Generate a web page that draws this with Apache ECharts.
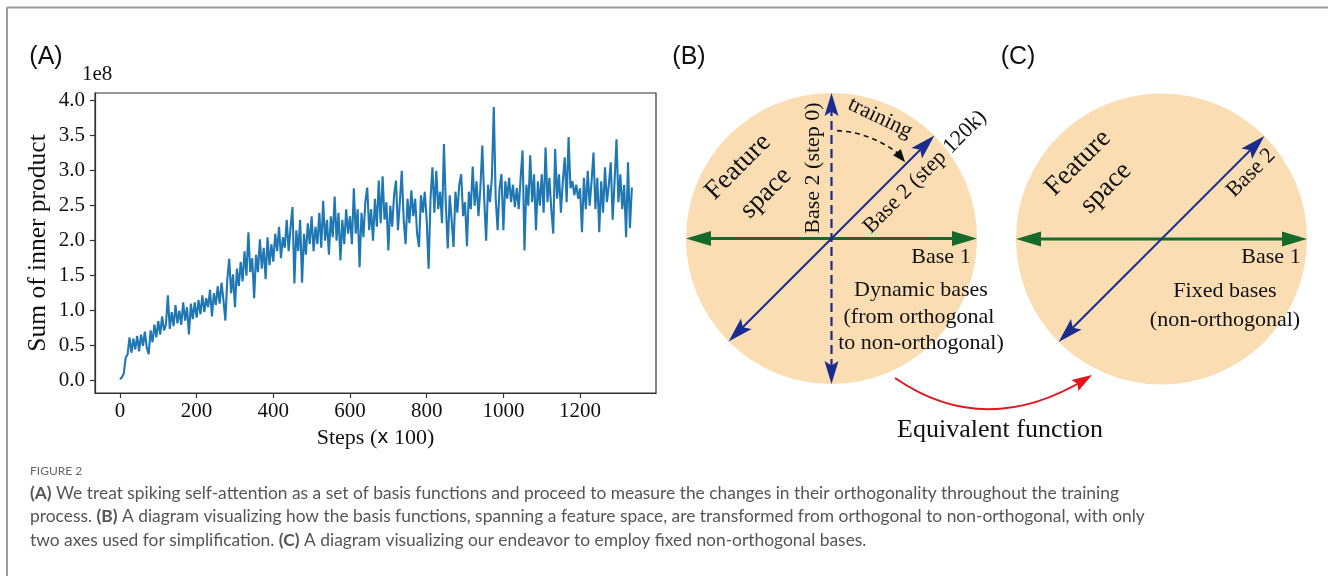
<!DOCTYPE html>
<html>
<head>
<meta charset="utf-8">
<style>
html, body { margin: 0; padding: 0; background: #fff; }
#main { width: 1328px; height: 576px; }
</style>
<script src="https://cdn.jsdelivr.net/npm/echarts@6/dist/echarts.min.js"></script>
</head>
<body>
<div id="main"></div>
<script>
// panel A: sum of inner product (x 1e8), one value every 5 "steps (x 100)"
var stepGap = 5;
var innerSum = [
	0.02, 0.05, 0.10, 0.33, 0.38, 0.62, 0.40, 0.60, 0.45, 0.64, 0.42, 0.66, 0.50, 0.70, 0.47, 0.38, 0.72, 0.55, 0.80, 0.62,
	0.85, 0.66, 0.92, 0.72, 0.80, 1.22, 0.74, 0.98, 0.78, 1.08, 0.82, 1.00, 0.80, 1.12, 0.86, 1.05, 0.66, 1.10, 0.88, 1.12,
	0.90, 1.15, 0.95, 1.22, 0.98, 1.18, 1.05, 1.30, 0.92, 1.25, 1.08, 1.35, 1.10, 1.40, 1.15, 0.86, 1.45, 1.74, 1.25, 1.52,
	1.05, 1.60, 1.35, 1.70, 1.42, 1.85, 1.50, 2.12, 1.55, 1.75, 1.18, 1.80, 1.55, 2.02, 1.60, 1.90, 1.45, 2.05, 1.65, 1.95,
	1.70, 2.10, 1.85, 2.20, 1.75, 2.05, 1.90, 2.30, 1.85, 2.20, 2.48, 1.39, 2.15, 1.85, 2.30, 1.40, 2.10, 1.80, 2.25, 1.95,
	2.35, 1.85, 2.20, 1.95, 2.40, 1.90, 2.57, 2.00, 2.30, 1.80, 2.35, 2.05, 2.63, 2.00, 2.40, 1.72, 2.30, 1.95, 2.45, 2.10,
	2.35, 1.95, 2.75, 2.10, 2.45, 1.62, 2.40, 2.05, 2.55, 2.76, 2.15, 2.45, 2.00, 2.60, 2.20, 2.86, 2.25, 2.92, 2.30, 2.55,
	1.86, 2.50, 2.20, 2.65, 2.86, 2.15, 2.55, 3.00, 2.30, 1.95, 2.60, 2.25, 2.72, 2.35, 2.60, 2.10, 1.91, 2.65, 2.40, 2.70,
	2.30, 1.60, 2.60, 3.05, 2.40, 3.00, 2.45, 2.70, 2.25, 3.38, 2.50, 1.89, 2.65, 2.30, 1.91, 2.70, 2.40, 2.80, 2.95, 2.35,
	2.55, 1.92, 2.70, 2.45, 3.06, 2.50, 2.85, 2.35, 2.75, 3.36, 2.60, 2.00, 2.80, 2.55, 2.90, 3.91, 2.60, 2.15, 2.75, 2.95,
	2.15, 2.85, 2.60, 2.90, 2.55, 2.80, 2.48, 2.75, 2.45, 2.90, 3.29, 1.86, 2.80, 2.50, 3.22, 2.55, 2.95, 2.15, 2.85, 2.50,
	2.95, 2.40, 3.33, 2.55, 2.90, 2.45, 2.10, 3.31, 2.60, 2.95, 2.40, 2.85, 3.19, 2.55, 3.48, 2.75, 2.85, 2.65, 2.80, 2.60,
	2.75, 2.12, 2.90, 2.45, 3.00, 2.50, 2.85, 3.26, 2.45, 2.90, 2.12, 2.85, 2.40, 3.05, 2.55, 2.80, 3.12, 2.30, 2.85, 3.45,
	2.55, 2.95, 2.45, 2.80, 2.05, 3.12, 2.18, 2.76
];
var xTicks = [0, 200, 400, 600, 800, 1000, 1200];
var yTicks = [0, 0.5, 1.0, 1.5, 2.0, 2.5, 3.0, 3.5, 4.0];

var captionLines = [
	'{b|(A)} We treat spiking self-attention as a set of basis functions and proceed to measure the changes in their orthogonality throughout the training',
	'process. {b|(B)} A diagram visualizing how the basis functions, spanning a feature space, are transformed from orthogonal to non-orthogonal, with only',
	'two axes used for simplification. {b|(C)} A diagram visualizing our endeavor to employ fixed non-orthogonal bases.'
];

var serif = '"Liberation Serif", "Times New Roman", serif';
var sans = 'Lato, "Open Sans", sans-serif';
var peach = '#FADDB2', navy = '#1B2C8F', green = '#17692C';

var chart = echarts.init(document.getElementById('main'));

var lineData = innerSum.map(function(v, i) {
	return [i * stepGap, v];
});

// ---- drawing helpers for the diagrams ----
function head(tx, ty, ang, len, half, color, notch) {
	var c = Math.cos(ang), s = Math.sin(ang);
	var bx = tx - c * len, by = ty - s * len;
	var nx = tx - c * len * notch, ny = ty - s * len * notch;
	return {
		type: 'polygon',
		shape: { points: [[tx, ty], [bx - s * half, by + c * half], [nx, ny], [bx + s * half, by - c * half]] },
		style: { fill: color },
		z: 10
	};
}

function dblArrow(x1, y1, x2, y2, opt) {
	var ang = Math.atan2(y2 - y1, x2 - x1);
	var c = Math.cos(ang), s = Math.sin(ang);
	var cut = opt.len * 0.7;
	var out = [];
	out.push({
		type: 'line',
		shape: { x1: x1 + c * cut, y1: y1 + s * cut, x2: x2 - c * cut, y2: y2 - s * cut },
		style: { stroke: opt.color, lineWidth: opt.width, lineDash: opt.dash || null },
		z: 9
	});
	out.push(head(x2, y2, ang, opt.len, opt.half, opt.color, opt.notch));
	out.push(head(x1, y1, ang + Math.PI, opt.len, opt.half, opt.color, opt.notch));
	return out;
}

function txt(x, y, text, size, rot, family, extra) {
	var el = {
		type: 'text',
		x: x,
		y: y,
		rotation: rot || 0,
		style: {
			text: text,
			fontSize: size,
			fontFamily: family || serif,
			fill: '#111',
			align: 'center',
			verticalAlign: 'middle'
		},
		z: 20
	};
	if(extra) {
		for(var k in extra) el.style[k] = extra[k];
	}
	return el;
}

function panel(cx, cy, r, dynamic) {
	var els = [];
	var d = r * Math.SQRT1_2;
	els.push({ type: 'circle', shape: { cx: cx, cy: cy, r: r }, style: { fill: peach }, z: 1 });
	els = els.concat(dblArrow(cx - r, cy, cx + r, cy, { color: green, width: 3, len: 25, half: 7.5, notch: 1 }));
	if(dynamic) {
		els = els.concat(dblArrow(cx, cy + r, cx, cy - r, { color: navy, width: 2.2, dash: [9, 5], len: 23, half: 7, notch: 0.8 }));
	}
	els = els.concat(dblArrow(cx - d, cy + d, cx + d, cy - d, { color: navy, width: 2, len: 25, half: 7.5, notch: 0.8 }));
	return els;
}

var graphics = [];
// frame
graphics.push({ type: 'line', shape: { x1: 7, y1: 7.5, x2: 1328, y2: 7.5 }, style: { stroke: '#9b9b9b', lineWidth: 2 } });
graphics.push({ type: 'line', shape: { x1: 7, y1: 7.5, x2: 7, y2: 576 }, style: { stroke: '#9b9b9b', lineWidth: 2 } });

// panel labels
graphics.push(txt(46, 57, '(A)', 25, 0, '"Liberation Sans", Arial, sans-serif'));
graphics.push(txt(689, 57, '(B)', 25, 0, '"Liberation Sans", Arial, sans-serif'));
graphics.push(txt(1018, 57, '(C)', 25, 0, '"Liberation Sans", Arial, sans-serif'));
graphics.push(txt(82, 74, '1e8', 21, 0, serif, { align: 'left' }));

// panel B
var bx = 831.5, by = 238.5, R = 145.5;
graphics = graphics.concat(panel(bx, by, R, true));
graphics.push({
	type: 'arc',
	shape: { cx: bx, cy: by, r: 108, startAngle: -87 * Math.PI / 180, endAngle: -52 * Math.PI / 180, clockwise: true },
	style: { stroke: '#111', lineWidth: 1.6, lineDash: [5, 4], fill: null },
	z: 9
});
(function() {
	var a = -46 * Math.PI / 180;
	var tx = bx + 106 * Math.cos(a), ty = by + 106 * Math.sin(a);
	graphics.push(head(tx, ty, a + Math.PI / 2 + 0.12, 13, 5, '#111', 1));
})();
graphics.push(txt(738, 167, 'Feature', 27, Math.PI / 4));
graphics.push(txt(766, 193, 'space', 27, Math.PI / 4));
graphics.push(txt(813, 168, 'Base 2 (step 0)', 22, Math.PI / 2));
graphics.push(txt(880, 118, 'training', 22, -0.45));
graphics.push(txt(925, 172, 'Base 2 (step 120k)', 22, Math.PI / 4));
graphics.push(txt(941, 257, 'Base 1', 22));
graphics.push(txt(921, 290, 'Dynamic bases', 22));
graphics.push(txt(919, 317, '(from orthogonal', 22));
graphics.push(txt(921, 343, 'to non-orthogonal)', 22));

// panel C
var ccx = 1161.5, ccy = 239;
graphics = graphics.concat(panel(ccx, ccy, R, false));
graphics.push(txt(1078, 163, 'Feature', 27, Math.PI / 4));
graphics.push(txt(1106, 188, 'space', 27, Math.PI / 4));
graphics.push(txt(1251, 173, 'Base 2', 22, Math.PI / 4));
graphics.push(txt(1271, 257, 'Base 1', 22));
graphics.push(txt(1225, 291, 'Fixed bases', 22));
graphics.push(txt(1225, 320, '(non-orthogonal)', 22));

// equivalence arrow
graphics.push({
	type: 'bezierCurve',
	shape: { x1: 895, y1: 378, cpx1: 985, cpy1: 440, x2: 1086, y2: 379 },
	style: { stroke: '#E3141C', lineWidth: 2, fill: null },
	z: 9
});
graphics.push(head(1092, 375, Math.atan2(-63, 103), 20, 6.5, '#E3141C', 0.85));
graphics.push(txt(1000, 430, 'Equivalent function', 26));

// caption
graphics.push(txt(30, 471, 'FIGURE 2', 12, 0, sans, { align: 'left', fill: '#666' }));
for(var i = 0; i < captionLines.length; i++) {
	graphics.push(txt(30, 493 + i * 23.5, captionLines[i], 17.4, 0, sans, {
		align: 'left',
		fill: '#555',
		rich: { b: { fontWeight: 'bold', fontSize: 17.4, fontFamily: sans, fill: '#555' } }
	}));
}

chart.setOption({
	animation: false,
	grid: {
		left: 95,
		top: 93,
		width: 561,
		height: 300,
		show: true,
		borderColor: '#333',
		borderWidth: 1.2,
		backgroundColor: 'transparent'
	},
	xAxis: {
		type: 'value',
		min: -65,
		max: 1398,
		name: 'Steps ({s|x} 100)',
		nameLocation: 'middle',
		nameGap: 26,
		nameTextStyle: {
			fontFamily: serif,
			fontSize: 22,
			color: '#111',
			rich: { s: { fontFamily: '"DejaVu Sans", sans-serif', fontSize: 19, color: '#111' } }
		},
		axisLine: { show: true, onZero: false, lineStyle: { color: '#333', width: 1.2 } },
		splitLine: { show: false },
		axisTick: { show: true, inside: false, length: 5, customValues: xTicks, lineStyle: { color: '#333', width: 1.2 } },
		axisLabel: {
			customValues: xTicks,
			fontFamily: serif,
			fontSize: 21,
			color: '#111',
			margin: 8,
			formatter: function(v) { return String(v); }
		}
	},
	yAxis: {
		type: 'value',
		min: -0.175,
		max: 4.11,
		name: 'Sum of inner product',
		nameLocation: 'middle',
		nameGap: 44,
		nameTextStyle: { fontFamily: serif, fontSize: 25.5, color: '#111' },
		axisLine: { show: true, onZero: false, lineStyle: { color: '#333', width: 1.2 } },
		splitLine: { show: false },
		axisTick: { show: true, inside: false, length: 5, customValues: yTicks, lineStyle: { color: '#333', width: 1.2 } },
		axisLabel: {
			customValues: yTicks,
			fontFamily: serif,
			fontSize: 21,
			color: '#111',
			margin: 10,
			formatter: function(v) { return v.toFixed(1); }
		}
	},
	series: [{
		type: 'line',
		data: lineData,
		showSymbol: false,
		lineStyle: { color: '#1f77b4', width: 2.1 },
		clip: true
	}],
	graphic: { elements: graphics }
});
</script>
</body>
</html>
